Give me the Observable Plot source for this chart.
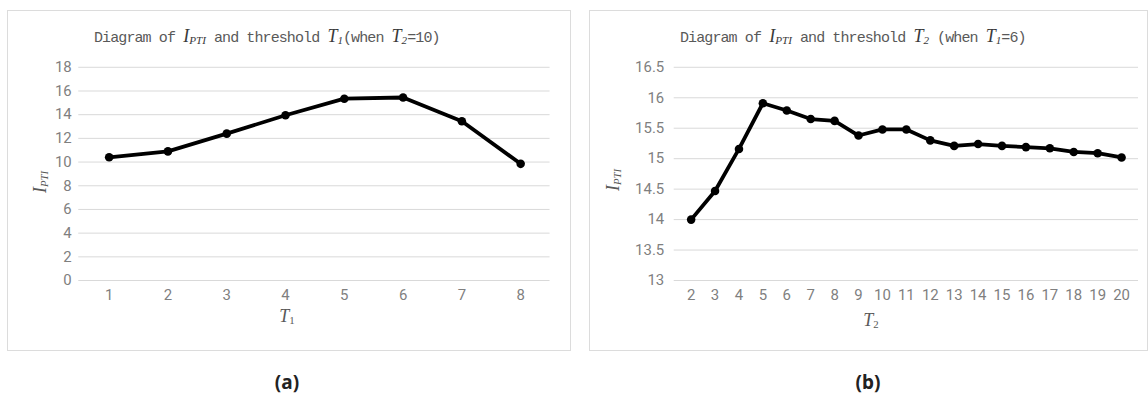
<!DOCTYPE html>
<html><head><meta charset="utf-8">
<script src="https://cdn.jsdelivr.net/npm/d3@7"></script>
<script src="https://cdn.jsdelivr.net/npm/@observablehq/plot@0.6"></script>
<style>
body{margin:0;background:#fff;width:1148px;height:402px;position:relative;overflow:hidden;font-family:"Liberation Sans",sans-serif}
.panel{position:absolute;border:1px solid #dcdcdc;box-sizing:border-box}
.panel svg{position:absolute;left:-1px;top:-1px;overflow:visible}
.title{position:absolute;white-space:nowrap;font-family:"Liberation Mono",monospace;font-size:15px;letter-spacing:-0.9px;color:#595959;transform:translateY(-50%)}
.it{font-family:"Liberation Serif",serif;font-style:italic;font-size:18px;letter-spacing:0;color:#3a3a3a}
.it sub{font-size:0.62em;vertical-align:-0.25em}
.axl{position:absolute;white-space:nowrap;font-family:"Liberation Serif",serif;font-style:italic;font-size:18px;color:#595959;transform:translate(-50%,-50%)}
.axl sub{font-size:0.6em;vertical-align:-0.25em;font-style:normal}
.axl sub.i{font-style:italic}
.ylab{transform:translate(-50%,-50%) rotate(-90deg)}
.cap{position:absolute;font-family:"Noto Sans",sans-serif;font-weight:700;font-size:19px;color:#222;transform:translate(-50%,-50%)}
</style></head>
<body>
<div class="panel" id="pa" style="left:7px;top:10px;width:564px;height:341px">
  <div class="title" style="left:86px;top:25px">Diagram of <span class="it">I<sub>PTI</sub></span> and threshold <span class="it">T<sub>1</sub></span>(when <span class="it">T<sub>2</sub></span>=10)</div>
</div>
<div class="panel" id="pb" style="left:589px;top:10px;width:559px;height:341px">
  <div class="title" style="left:90px;top:25px">Diagram of <span class="it">I<sub>PTI</sub></span> and threshold <span class="it">T<sub>2</sub></span> (when <span class="it">T<sub>1</sub></span>=6)</div>
</div>
<div class="axl ylab" style="left:40px;top:182px">I<sub class="i">PTI</sub></div>
<div class="axl" style="left:287px;top:316px">T<sub>1</sub></div>
<div class="axl ylab" style="left:613px;top:180px">I<sub class="i">PTI</sub></div>
<div class="axl" style="left:871px;top:320px">T<sub>2</sub></div>
<div class="cap" style="left:287px;top:382px">(a)</div>
<div class="cap" style="left:868px;top:382px">(b)</div>
<script>
// Panel (a): I_PTI vs threshold T1 (T2 = 10)
const t1Values = [1, 2, 3, 4, 5, 6, 7, 8];
const iptiA = [10.4, 10.9, 12.4, 13.95, 15.35, 15.45, 13.45, 9.85];
const yTicksA = [0, 2, 4, 6, 8, 10, 12, 14, 16, 18];

// Panel (b): I_PTI vs threshold T2 (T1 = 6)
const t2Values = [2, 3, 4, 5, 6, 7, 8, 9, 10, 11, 12, 13, 14, 15, 16, 17, 18, 19, 20];
const iptiB = [14.0, 14.47, 15.16, 15.91, 15.79, 15.65, 15.62, 15.38, 15.48, 15.48, 15.3, 15.21, 15.24, 15.21, 15.19, 15.17, 15.11, 15.09, 15.02];
const yTicksB = [13, 13.5, 14, 14.5, 15, 15.5, 16, 16.5];

const dataA = t1Values.map((t, i) => ({t, v: iptiA[i]}));
const dataB = t2Values.map((t, i) => ({t, v: iptiB[i]}));

const common = {
  style: {fontFamily: "'Liberation Sans Narrow', Roboto, 'Liberation Sans', sans-serif", fontSize: "15px", color: "#7f7f7f", background: "transparent"}
};

function chart(data, domainX, domainY, ticksY, m) {
  return Plot.plot({
    ...common,
    width: m.width, height: 341,
    marginLeft: m.left, marginRight: m.right, marginTop: 57, marginBottom: 70,
    x: {type: "point", domain: domainX, padding: 0.5, label: null, tickSize: 0, tickPadding: 9},
    y: {domain: domainY, ticks: ticksY, label: null, tickSize: 0, tickPadding: m.pad, tickFormat: d => String(d)},
    marks: [
      Plot.gridY(ticksY, {stroke: "#d9d9d9", strokeOpacity: 1, strokeWidth: 1}),
      Plot.line(data, {x: "t", y: "v", stroke: "#000", strokeWidth: 3.8, strokeLinejoin: "round"}),
      Plot.dot(data, {x: "t", y: "v", r: 4.3, fill: "#000", stroke: "none"})
    ]
  });
}

document.getElementById("pa").appendChild(
  chart(dataA, t1Values, [0, 18], yTicksA, {width: 564, left: 71.5, right: 19.5, pad: 7}));
document.getElementById("pb").appendChild(
  chart(dataB, t2Values, [13, 16.5], yTicksB, {width: 559, left: 85, right: 8, pad: 10}));
</script>
</body></html>
